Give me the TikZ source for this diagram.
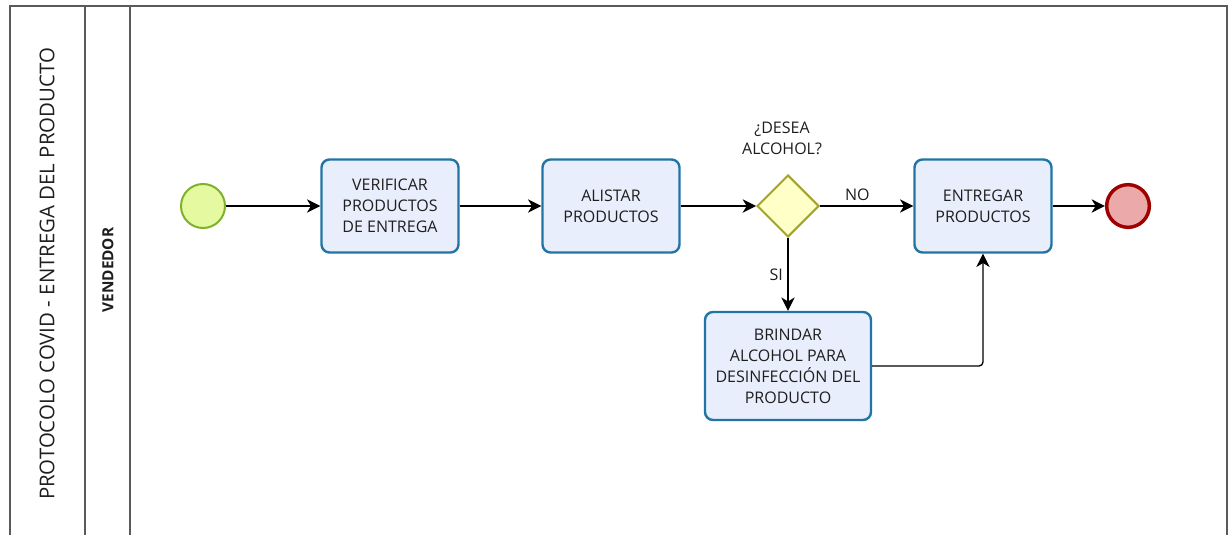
\documentclass[tikz,border=0pt]{standalone}
\usepackage{fontspec}
\setmainfont{Open Sans}
\usetikzlibrary{arrows.meta,shapes.geometric}

\definecolor{taskfill}{HTML}{E8EEFB}
\definecolor{taskline}{HTML}{2274A5}
\definecolor{startfill}{HTML}{E4F9A0}
\definecolor{startline}{HTML}{7DB32A}
\definecolor{endfill}{HTML}{EBA9AA}
\definecolor{endline}{HTML}{A10000}
\definecolor{gatefill}{HTML}{FFFFC8}
\definecolor{gateline}{HTML}{A3A32A}
\definecolor{poolline}{HTML}{5A5A5A}
\definecolor{txt}{HTML}{1E1E1E}

\tikzset{
  task/.style={draw=taskline, fill=taskfill, line width=1.8pt,
               rounded corners=6pt, minimum width=102.75pt,
               minimum height=69.75pt, align=center, text=txt,
               font=\fontsize{12}{15.75}\selectfont},
  startev/.style={circle, draw=startline, fill=startfill,
                  line width=1.5pt, minimum size=33pt, inner sep=0pt},
  endev/.style={circle, draw=endline, fill=endfill,
                line width=2.6pt, minimum size=32pt, inner sep=0pt},
  gateway/.style={diamond, draw=gateline, fill=gatefill,
                  line width=1.5pt, minimum width=46.5pt,
                  minimum height=46.5pt, inner sep=0pt},
  flowlabel/.style={text=txt, font=\fontsize{12}{15.75}\selectfont},
  pool/.style={draw=poolline, line width=0.8pt}
}

\begin{document}
\begin{tikzpicture}[x=0.75pt,
            y=-0.75pt,
            ->,
            >={Stealth[length=10pt,width=10pt,inset=3pt]},
            line width=1pt,
            auto,
            node distance=140pt]

    \useasboundingbox (0,0) rectangle (1230,535);

    % pool and lane
    \draw[-, pool] (10,535) -- (10,6) -- (1227,6) -- (1227,535);
    \draw[-, pool] (85,6) -- (85,535);
    \draw[-, pool] (130,6) -- (130,535);
    \node[rotate=90, text=txt, font=\fontsize{15.3}{18}\selectfont] (poolname)
        at (47,274) {PROTOCOLO COVID - ENTREGA DEL PRODUCTO};
    \node[rotate=90, text=txt, font=\fontsize{11.5}{13}\selectfont\bfseries] (lanename)
        at (108,270) {VENDEDOR};

    % flow
    \node[startev]       (start)   at (203,206)                               {};
    \node[task]          (verify)  [right of=start,  node distance=140.25pt] {VERIFICAR\\PRODUCTOS\\DE ENTREGA};
    \node[task]          (prepare) [right of=verify, node distance=165.75pt] {ALISTAR\\PRODUCTOS};
    \node[gateway]       (gate)    [right of=prepare,node distance=132.75pt] {};
    \node[flowlabel, align=center] (ask) [above of=gate, node distance=51pt, xshift=-4.5pt] {¿DESEA\\ALCOHOL?};
    \node[task]          (deliver) [right of=gate,   node distance=146.25pt] {ENTREGAR\\PRODUCTOS};
    \node[endev]         (finish)  [right of=deliver,node distance=108.75pt] {};
    \node[task, minimum width=124.5pt, minimum height=81pt]
                         (offer)   [below of=gate,   node distance=120pt]    {BRINDAR\\ALCOHOL PARA\\DESINFECCIÓN DEL\\PRODUCTO};

    \path (start)   edge                                  (verify)
          (verify)  edge                                  (prepare)
          (prepare) edge                                  (gate)
          (gate)    edge node[flowlabel, pos=0.4]   {NO}  (deliver)
                    edge node[flowlabel, swap]      {SI}  (offer)
          (deliver) edge                                  (finish);
    \draw[rounded corners=3pt] (offer) -| (deliver);

\end{tikzpicture}
\end{document}
